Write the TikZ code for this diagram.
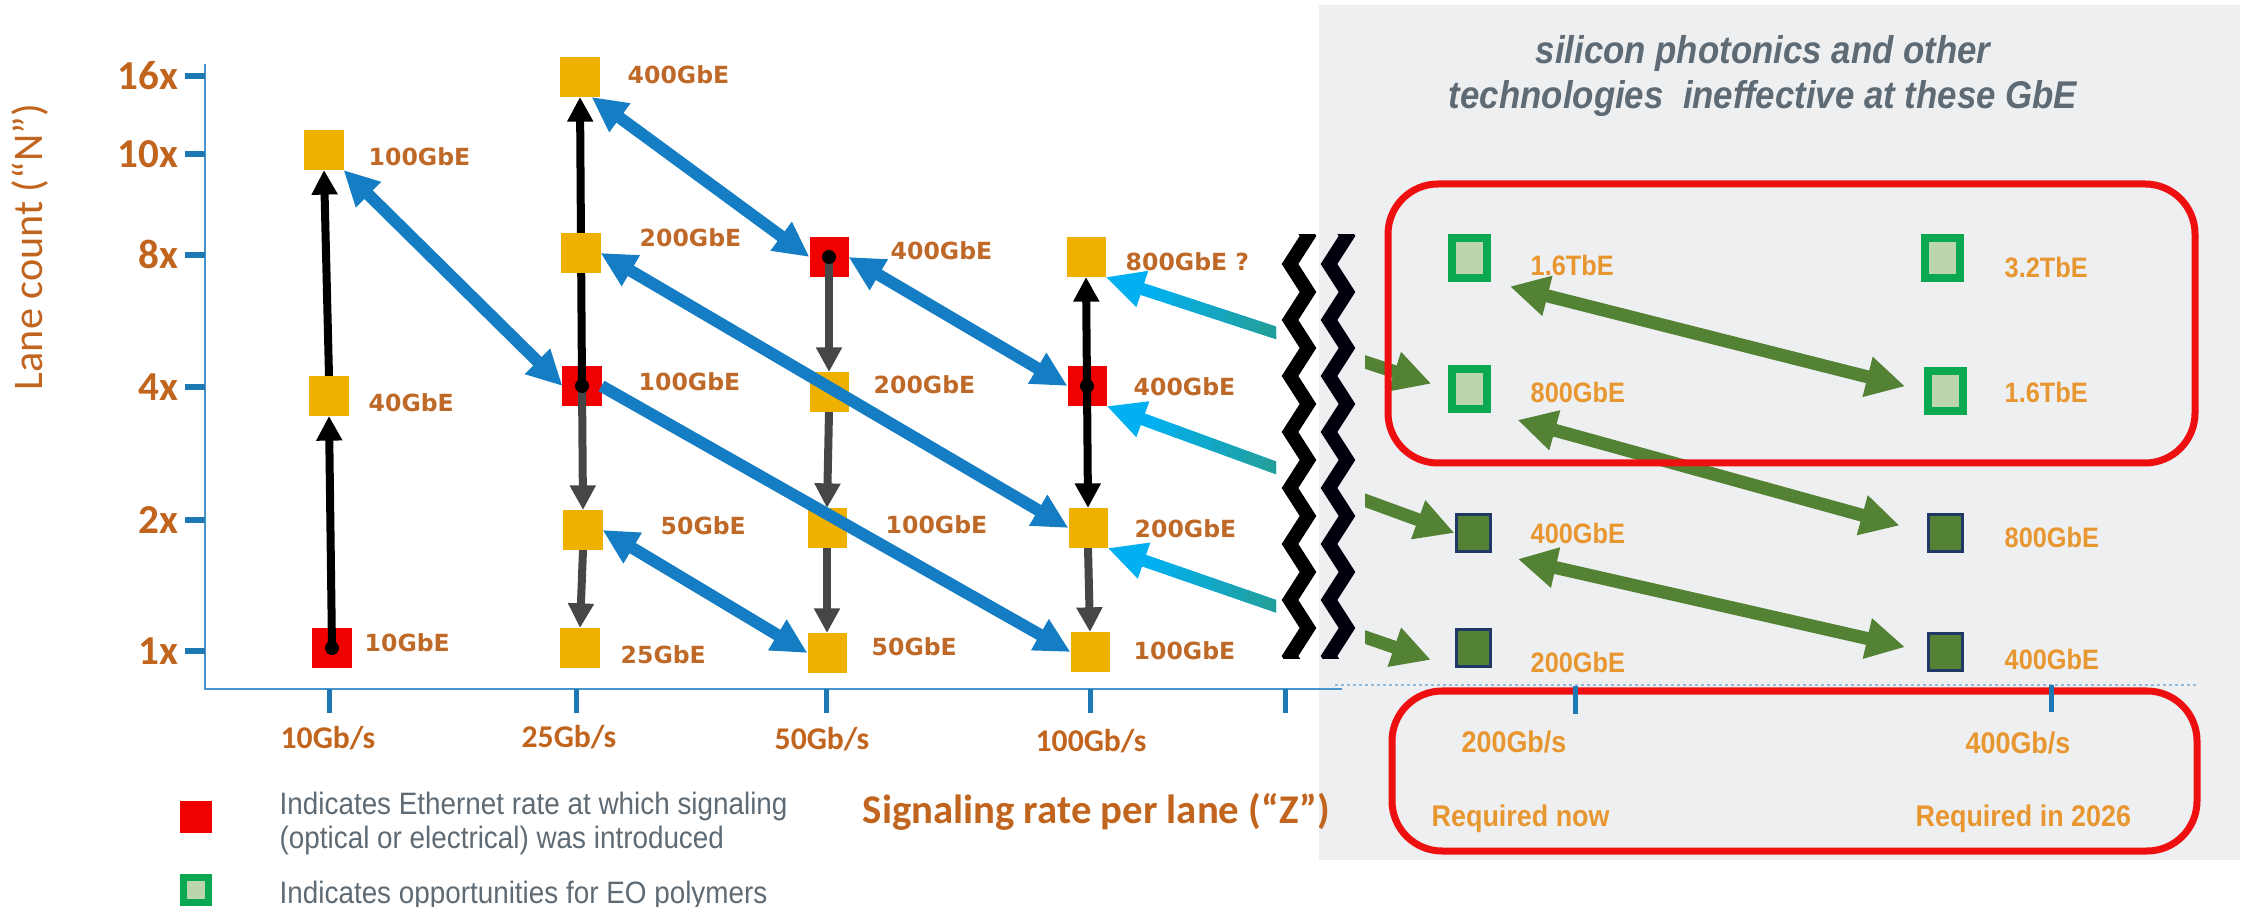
\documentclass[tikz,border=0pt]{standalone}
\usepackage{fontspec}
\setmainfont{Carlito}
\newfontfamily\rf{Liberation Sans}[FakeStretch=0.9]
\newfontfamily\lf{DejaVu Sans}
\usetikzlibrary{arrows.meta,calc}
\pgfdeclarelayer{bg}
\pgfsetlayers{bg,main}
\definecolor{chartor}{RGB}{192,100,30}
\definecolor{labor}{RGB}{190,105,40}
\definecolor{cyel}{RGB}{240,176,0}
\definecolor{cred}{RGB}{240,0,0}
\definecolor{cblue}{RGB}{20,125,195}
\definecolor{ccyan}{RGB}{0,176,240}
\definecolor{cteal}{RGB}{46,154,130}
\definecolor{cgreen}{RGB}{84,130,53}
\definecolor{rred}{RGB}{238,16,16}
\definecolor{panel}{RGB}{238,239,241}
\definecolor{gtxt}{RGB}{94,107,117}
\definecolor{lor}{RGB}{232,150,48}
\definecolor{axblue}{RGB}{70,150,205}
\definecolor{tickblue}{RGB}{30,120,180}
\definecolor{gbright}{RGB}{10,168,80}
\definecolor{glight}{RGB}{188,213,173}
\definecolor{cnavy}{RGB}{31,56,100}
\definecolor{dgray}{RGB}{70,70,70}
\definecolor{dotblue}{RGB}{150,185,215}
\tikzset{
  sq/.style={rectangle, inner sep=0pt, outer sep=0pt, minimum width=0.39cm, minimum height=0.40cm},
  ysq/.style={sq, fill=cyel},
  rsq/.style={sq, fill=cred},
  gsq/.style={rectangle, inner sep=0pt, minimum width=0.35cm, minimum height=0.39cm, fill=glight, draw=gbright, line width=0.08cm},
  dsq/.style={rectangle, inner sep=0pt, minimum width=0.34cm, minimum height=0.37cm, fill=cgreen, draw=cnavy, line width=0.03cm},
  lab/.style={anchor=west, inner sep=0pt, text=labor, font=\lf\fontsize{6.7}{8}\selectfont\bfseries, text height=4.9pt, text depth=0pt},
  ylab/.style={anchor=east, inner sep=0pt, text=chartor, font=\fontsize{11.7}{14}\selectfont\bfseries, text height=7.4pt, text depth=0pt},
  xlab/.style={anchor=center, inner sep=0pt, text=chartor, font=\fontsize{9}{11}\selectfont\bfseries, text height=5.8pt, text depth=0pt},
  rlab/.style={anchor=west, inner sep=0pt, text=lor, font=\rf\fontsize{8}{10}\selectfont\bfseries, text height=5.7pt, text depth=0pt},
  rxlab/.style={inner sep=0pt, text=lor, font=\rf\fontsize{8.5}{10}\selectfont\bfseries, text height=6.1pt, text depth=0pt},
  legtext/.style={anchor=west, inner sep=0pt, text=gtxt, font=\rf\fontsize{8.8}{10}\selectfont, text height=6.3pt, text depth=0pt},
  bluearr/.style={cblue, line width=0.12cm, {Triangle[length=10pt,width=9.5pt]}-{Triangle[length=10pt,width=9.5pt]}},
  bluearrone/.style={cblue, line width=0.12cm, -{Triangle[length=10pt,width=9.5pt]}},
  blackarr/.style={black, line width=0.08cm, -{Triangle[length=7pt,width=7pt]}},
  grayarr/.style={dgray, line width=0.08cm, -{Triangle[length=7pt,width=7pt]}},
  greenarr/.style={cgreen, line width=0.13cm, {Triangle[length=11pt,width=11pt]}-{Triangle[length=11pt,width=11pt]}},
  cyanarr/.style={ccyan, line width=0.12cm, {Triangle[length=11pt,width=10pt]}-},
  greenend/.style={cgreen, line width=0.13cm, -{Triangle[length=11pt,width=11pt]}},
  zig/.style={line width=0.14cm, miter limit=10, line join=miter},
  dotc/.style={black}
}
\begin{document}
\begin{tikzpicture}[x=0.01cm,y=-0.01cm]
\useasboundingbox (0,0) rectangle (2246,907);
% right panel background
\begin{pgfonlayer}{bg}
\fill[panel] (1319,5) rectangle (2240,860);
\end{pgfonlayer}

% axes
\draw[axblue, line width=0.025cm] (205,64) -- (205,689) -- (1342,689);
\draw[dotblue, line width=0.02cm, dash pattern=on 0.03cm off 0.03cm] (1335,685) -- (2198,685);
\foreach \y in {76,154,255,387,520,651} \draw[tickblue, line width=0.06cm] (185,\y) -- (205,\y);
\foreach \x in {329,576,826,1090,1285} \draw[tickblue, line width=0.05cm] (\x,689) -- (\x,713);

% y tick labels
\node[ylab] (y16) at (179,76) {16x};
\node[ylab] (y10) at (179,154) {10x};
\node[ylab] (y8) at (179,255) {8x};
\node[ylab] (y4) at (179,387) {4x};
\node[ylab] (y2) at (179,520) {2x};
\node[ylab] (y1) at (179,651) {1x};
% x tick labels
\node[xlab] (x10) at (328,738) {10Gb/s};
\node[xlab] (x25) at (569,737) {25Gb/s};
\node[xlab] (x50) at (822,739) {50Gb/s};
\node[xlab] (x100) at (1091,741) {100Gb/s};
% axis titles
\node[inner sep=0pt, text=chartor, font=\fontsize{12}{14}\selectfont, rotate=90] (ylabel) at (30,247) {Lane count (“N”)};
\node[anchor=west, inner sep=0pt, text=chartor, font=\fontsize{11.6}{14}\selectfont\bfseries, text height=7.5pt, text depth=0pt] (xlabel) at (862,810) {Signaling rate per lane (“Z”)};

% yellow squares (chart), above the vertical lines
\node[ysq] (n100a) at (324,150) {};
\node[ysq] (n40) at (329,396) {};
\node[ysq] (n400a) at (580,77) {};
\node[ysq] (n200a) at (581,253) {};
\node[ysq] (n50a) at (583,530) {};
\node[ysq] (n25) at (580,648) {};
\node[ysq] (n200b) at (829,392) {};
\node[ysq] (n100c) at (827,528) {};
\node[ysq] (n50b) at (827,653) {};
\node[ysq] (n800a) at (1086,257) {};
\node[ysq] (n200c) at (1088,528) {};
\node[ysq] (n100d) at (1090,652) {};

% red squares and vertical black / gray arrows, below the yellow squares
\begin{pgfonlayer}{bg}
\node[rsq] (n10) at (332,648) {};
\node[rsq] (n100b) at (582,386) {};
\node[rsq] (n400b) at (829,257) {};
\node[rsq] (n400c) at (1087,386) {};
\draw[blackarr] (n10.center) -- (n40.south);
\draw[blackarr] (n40.north) -- (n100a.south);
\draw[blackarr] (n100b.center) -- (n400a.south);
\draw[blackarr] (n400c.center) -- (n800a.south);
\draw[blackarr] (n400c.center) -- (n200c.north);
\draw[grayarr] (n100b.center) -- (n50a.north);
\draw[grayarr] (n50a.south) -- (n25.north);
\draw[grayarr] (n400b.center) -- (n200b.north);
\draw[grayarr] (n200b.south) -- (n100c.north);
\draw[grayarr] (n100c.south) -- (n50b.north);
\draw[grayarr] (n200c.south) -- (n100d.north);
\end{pgfonlayer}
\fill[dotc] (n10.center) circle[radius=0.07cm];
\fill[dotc] (n100b.center) circle[radius=0.07cm];
\fill[dotc] (n400b.center) circle[radius=0.07cm];
\fill[dotc] (n400c.center) circle[radius=0.07cm];

% chart labels
\node[lab] (l100a) at (368,157) {100GbE};
\node[lab] (l40) at (368,403) {40GbE};
\node[lab] (l10) at (364,643) {10GbE};
\node[lab] (l400a) at (627,75) {400GbE};
\node[lab] (l200a) at (639,238) {200GbE};
\node[lab] (l100b) at (638,382) {100GbE};
\node[lab] (l50a) at (660,526) {50GbE};
\node[lab] (l25) at (620,655) {25GbE};
\node[lab] (l400b) at (890,251) {400GbE};
\node[lab] (l200b) at (873,385) {200GbE};
\node[lab] (l100c) at (885,525) {100GbE};
\node[lab] (l50b) at (871,647) {50GbE};
\node[lab] (l800a) at (1125,262) {800GbE ?};
\node[lab] (l400c) at (1133,387) {400GbE};
\node[lab] (l200c) at (1134,529) {200GbE};
\node[lab] (l100d) at (1133,651) {100GbE};

% blue diagonal arrows
\draw[bluearr] (n100a.south east) -- (n100b.west);
\draw[bluearr] (n400a.-60) -- (n400b.west);
\draw[bluearr] (n200a.east) -- (n200c.west);
\draw[bluearrone] (n100b.east) -- (n100d.west);
\draw[bluearr] (n400b.east) -- (n400c.west);
\draw[bluearr] (n50a.east) -- (n50b.west);

% right panel squares
\node[gsq] (g16a) at (1469,258) {};
\node[gsq] (g32) at (1942,258) {};
\node[gsq] (g800) at (1469,389) {};
\node[gsq] (g16b) at (1945,391) {};
\node[dsq] (d400a) at (1473,533) {};
\node[dsq] (d800) at (1945,533) {};
\node[dsq] (d200) at (1473,648) {};
\node[dsq] (d400b) at (1945,652) {};
\node[rlab] (r16a) at (1530,265) {1.6TbE};
\node[rlab] (r32) at (2004,267) {3.2TbE};
\node[rlab] (r800) at (1530,392) {800GbE};
\node[rlab] (r16b) at (2004,392) {1.6TbE};
\node[rlab] (r400a) at (1530,533) {400GbE};
\node[rlab] (r800b) at (2004,537) {800GbE};
\node[rlab] (r200) at (1530,662) {200GbE};
\node[rlab] (r400b) at (2004,659) {400GbE};

% cyan-to-green arrows across the break
\begin{scope}
  \clip (0,0) rectangle (1276,907);
  \foreach \a/\b in {n800a.south east/g800.west, n400c.south east/d400a.west, n200c.south east/d200.south west} {
    \draw[cyanarr] (\a) -- (\b);
    \foreach \i in {0,...,9} {
      \pgfmathsetmacro\ta{0.10+\i*0.05}
      \pgfmathsetmacro\tb{0.155+\i*0.05}
      \pgfmathtruncatemacro\p{\i*11}
      \draw[cteal!\p!ccyan, line width=0.12cm] ($(\a)!\ta!(\b)$) -- ($(\a)!\tb!(\b)$);
    }
  }
\end{scope}
\begin{scope}
  \clip (1365,0) rectangle (2246,907);
  \draw[greenend, shorten >=0.17cm] (n800a.south east) -- (g800.west);
  \draw[greenend] (n400c.south east) -- (d400a.west);
  \draw[greenend, shorten >=0.25cm] (n200c.south east) -- (d200.south west);
\end{scope}

% green arrows in the right panel
\draw[greenarr, shorten <=0.2cm, shorten >=0.19cm] (g16a.south east) -- (g16b.west);
\draw[greenarr, shorten <=0.28cm, shorten >=0.28cm] (g800.south east) -- (d800.west);
\draw[greenarr, shorten <=0.27cm, shorten >=0.22cm] (d400a.south east) -- (d400b.west);

% zigzag break marks
\begin{scope}
  \clip (1200,235) rectangle (1420,658);
  \draw[zig, black] (1290,208)--(1308,236)--(1290,264)--(1308,292)--(1290,320)--(1308,348)--(1290,376)--(1308,404)--(1290,432)--(1308,460)--(1290,488)--(1308,516)--(1290,544)--(1308,572)--(1290,600)--(1308,628)--(1290,656)--(1308,684);
  \draw[zig, black!95!blue, shift={(39,0)}] (1290,208)--(1308,236)--(1290,264)--(1308,292)--(1290,320)--(1308,348)--(1290,376)--(1308,404)--(1290,432)--(1308,460)--(1290,488)--(1308,516)--(1290,544)--(1308,572)--(1290,600)--(1308,628)--(1290,656)--(1308,684);
\end{scope}

% red frames
\draw[rred, line width=0.07cm, rounded corners=0.5cm] (1388,184) rectangle (2195,463);
\draw[rred, line width=0.07cm, rounded corners=0.5cm] (1392,691) rectangle (2197,851);

% right axis ticks and labels
\draw[tickblue, line width=0.05cm] (1575,686) -- (1575,714);
\draw[tickblue, line width=0.05cm] (2051,685) -- (2051,712);
\node[rxlab] (x200) at (1514,742) {200Gb/s};
\node[rxlab] (x400) at (2018,743) {400Gb/s};
\node[rxlab, anchor=west] (reqnow) at (1431,816) {Required now};
\node[rxlab, anchor=west] (req26) at (1915,816) {Required in 2026};

% title
\node[align=center, inner sep=0pt, text=gtxt, font=\rf\fontsize{11}{12.8}\selectfont\bfseries\itshape] (title) at (1763,76) {silicon photonics and other\\technologies\ \ ineffective at these GbE};

% legend
\node[rsq, minimum width=0.31cm, minimum height=0.31cm] (legr) at (196,817) {};
\node[gsq, minimum width=0.24cm, minimum height=0.24cm, line width=0.07cm] (legg) at (196,890) {};
\node[legtext] (leg1) at (279,803) {Indicates Ethernet rate at which signaling};
\node[legtext] (leg2) at (279,837) {(optical or electrical) was introduced};
\node[legtext] (leg3) at (279,892) {Indicates opportunities for EO polymers};
\end{tikzpicture}
\end{document}
